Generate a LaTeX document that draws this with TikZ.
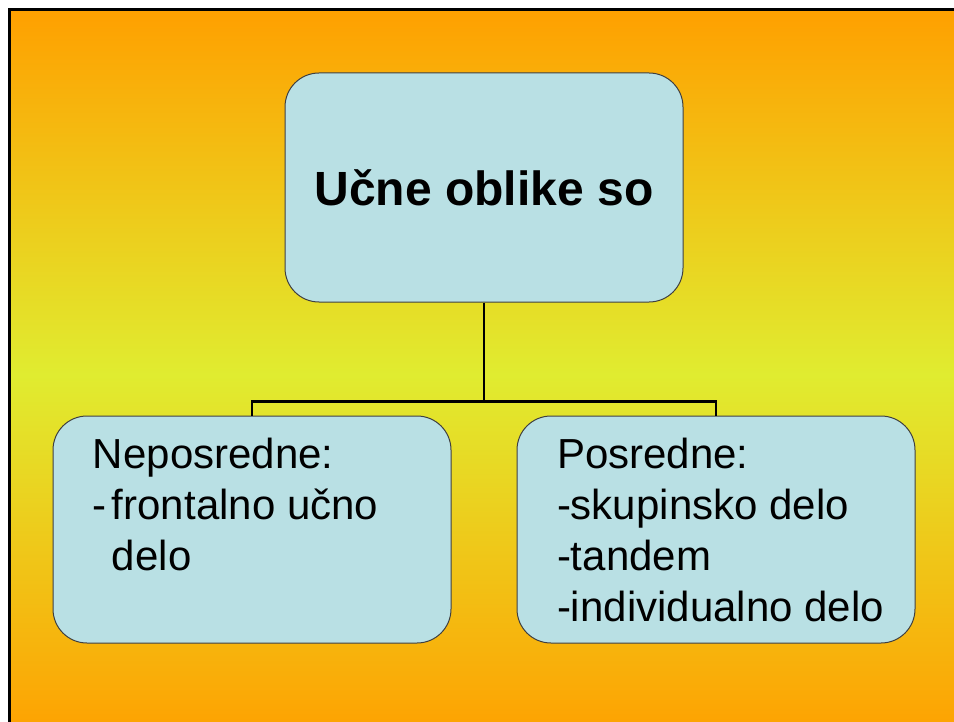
\documentclass[tikz,border=0pt]{standalone}
\usepackage{fontspec}
\setmainfont{Liberation Sans}
\usepackage{tikz}
\usetikzlibrary{positioning}

\definecolor{slidetop}{RGB}{255,160,0}
\definecolor{slidemid}{RGB}{224,236,48}
\definecolor{boxfill}{RGB}{185,224,228}
\definecolor{boxline}{RGB}{64,64,64}

\newcommand{\seznam}[1]{\hspace*{20pt}\parbox[c][113.5pt][t]{179pt}{%
    \raggedright\fontsize{21}{25.5}\selectfont\vspace*{8.6pt}\strut #1}}

\tikzset{
  oblika/.style={draw=boxline, line width=0.5pt, fill=boxfill,
    rounded corners=17pt, inner sep=0pt,
    minimum width=199pt, minimum height=113.5pt},
  vez/.style={line width=1.4pt, black}
}

\begin{document}
\begin{tikzpicture}[x=0.5pt, y=-0.5pt]
    \useasboundingbox (0,0) rectangle (954,722);
    \clip (0,0) rectangle (954,722);
    \fill[top color=slidetop, bottom color=slidetop, middle color=slidemid]
        (9.5,9.5) rectangle (970,740);
    \draw[line width=1.5pt] (9.5,740) -- (9.5,9.5) -- (970,9.5);

    \node[oblika, minimum height=114.5pt,
          font=\bfseries\fontsize{24}{29}\selectfont] (ucne-oblike) at (484,187.5) {Učne oblike so};

    \node[oblika] (neposredne) at (252,529.5)
        {\seznam{Neposredne:\\\makebox[9.5pt][l]{-}frontalno učno\\\hspace*{9.5pt}delo}};
    \node[oblika] (posredne) at (716,529.5)
        {\seznam{Posredne:\\-skupinsko delo\\-tandem\\-individualno delo}};

    \path (ucne-oblike.south) ++(0,99) coordinate (razcep);
    \draw[vez] (ucne-oblike.south) -- (razcep) -| (neposredne.north);
    \draw[vez] (razcep) -| (posredne.north);
\end{tikzpicture}
\end{document}
